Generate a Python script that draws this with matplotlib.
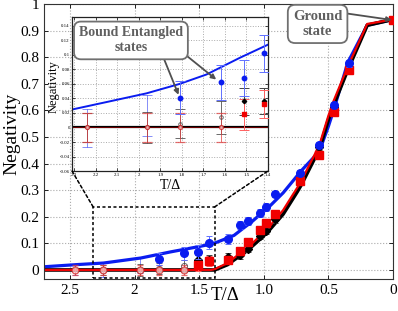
import matplotlib
matplotlib.use("Agg")
import matplotlib.pyplot as plt
from matplotlib.patches import Rectangle, ConnectionPatch
from matplotlib.ticker import FuncFormatter

plt.rcParams['font.family'] = ['Liberation Serif', 'DejaVu Serif']

# theory curves (main panel)
theory_T = [2.7, 2.45, 2.24, 1.95, 1.72, 1.5, 1.41, 1.38, 1.28, 1.23, 1.15, 1.1, 1.02, 0.97,
            0.85, 0.74, 0.71, 0.6, 0.56, 0.5, 0.46, 0.35, 0.2, 0.0]
blue_theory = [0.012, 0.02, 0.026, 0.045, 0.068, 0.088, 0.097, 0.101, 0.12, 0.13, 0.16, 0.178,
               0.212, 0.232, 0.29, 0.355, 0.373, 0.43, 0.46, 0.54, 0.6, 0.78, 0.92, 0.942]
black_theory = [0.0, 0.0, 0.0, 0.0, 0.0, 0.0, 0.0, 0.0, 0.02, 0.038, 0.065, 0.085,
                0.12, 0.143, 0.21, 0.295, 0.32, 0.426, 0.47, 0.565, 0.62, 0.753, 0.92, 0.942]
red_theory = [0.0, 0.0, 0.0, 0.0, 0.0, 0.0, 0.0, 0.003, 0.026, 0.045, 0.075, 0.095,
              0.132, 0.155, 0.225, 0.31, 0.335, 0.44, 0.485, 0.58, 0.635, 0.765, 0.925, 0.942]

# theory curve as drawn in the inset
inset_theory_T = [2.306, 2.15, 1.964, 1.81, 1.685, 1.53, 1.40]
inset_blue_theory = [0.025, 0.035, 0.047, 0.060, 0.073, 0.096, 0.114]
inset_zero_T = [2.31, 1.40]
inset_zero = [0.0, 0.0]

# measured points
blue_T = [1.81, 1.62, 1.51, 1.42, 1.28, 1.18, 1.12, 1.03, 0.98, 0.91, 0.72, 0.57, 0.46, 0.34]
blue_N = [0.041, 0.062, 0.068, 0.102, 0.117, 0.168, 0.185, 0.216, 0.237, 0.285, 0.365, 0.47, 0.62, 0.777]
blue_err = [0.023, 0.024, 0.025, 0.025, 0.02, 0.015, 0.015, 0.015, 0.015, 0.012, 0.012, 0.012, 0.012, 0.012]

# blue error bars of points compatible with zero
blue0_T = [2.46, 2.24, 1.96]
blue0_lo = [-0.02, -0.027, -0.012]
blue0_hi = [0.02, 0.025, 0.045]

red_T = [2.46, 2.24, 1.96, 1.81, 1.62, 1.51, 1.42, 1.28, 1.18, 1.12, 1.03, 0.98, 0.91, 0.72, 0.57, 0.46, 0.34, 0.0]
red_N = [0.0, 0.0, 0.0, 0.0, 0.0, 0.018, 0.032, 0.036, 0.072, 0.105, 0.152, 0.175, 0.21, 0.335, 0.433, 0.595, 0.752, 0.94]
red_err = [0.02, 0.02, 0.02, 0.02, 0.02, 0.021, 0.019, 0.015, 0.015, 0.015, 0.015, 0.015, 0.015, 0.012, 0.012, 0.012, 0.012, 0.008]
red_open = 5

black_T = [2.24, 1.96, 1.81, 1.62, 1.51, 1.42, 1.28, 1.18, 1.12, 1.03, 0.98, 0.91, 0.72, 0.57, 0.46]
black_N = [0.0, 0.0, 0.005, 0.014, 0.036, 0.037, 0.05, 0.055, 0.08, 0.128, 0.147, 0.19, 0.345, 0.462, 0.614]
black_err = [0.02, 0.021, 0.02, 0.023, 0.019, 0.018, 0.012, 0.012, 0.012, 0.012, 0.012, 0.012, 0.01, 0.01, 0.01]
black_open = 4

x_ticks = [2.5, 2, 1.5, 1.0, 0.5, 0]
x_ticklabels = ["2.5", "2", "1.5", "1.0", "0.5", "0"]
y_ticks = [0, 0.1, 0.2, 0.3, 0.4, 0.5, 0.6, 0.7, 0.8, 0.9, 1]
y_ticklabels = ["0", "0.1", "0.2", "0.3", "0.4", "0.5", "0.6", "0.7", "0.8", "0.9", "1"]
inset_x_ticks = [2.3, 2.2, 2.1, 2.0, 1.9, 1.8, 1.7, 1.6, 1.5, 1.4]
inset_y_ticks = [-0.06, -0.04, -0.02, 0, 0.02, 0.04, 0.06, 0.08, 0.1, 0.12, 0.14]

BLUE = "#0a1cf0"
RED = "#f00000"


def draw_points(ax, ms, cap, elw):
    b0_mid = [(lo + hi) / 2 for lo, hi in zip(blue0_lo, blue0_hi)]
    b0_err = [(hi - lo) / 2 for lo, hi in zip(blue0_lo, blue0_hi)]
    ax.errorbar(blue0_T, b0_mid, yerr=b0_err, fmt='none', ecolor=BLUE, alpha=0.5,
                elinewidth=elw, capsize=cap, capthick=elw, zorder=3)
    # black
    ax.errorbar(black_T[:black_open], black_N[:black_open], yerr=black_err[:black_open],
                fmt='o', mfc='none', mec='#444444', color='#444444', ms=ms * 0.8, mew=0.7,
                alpha=0.8, elinewidth=elw, capsize=cap, capthick=elw, zorder=3)
    ax.errorbar(black_T[black_open:], black_N[black_open:], yerr=black_err[black_open:],
                fmt='D', color='black', ms=ms * 0.7, ecolor='#444444',
                elinewidth=elw, capsize=cap, capthick=elw, zorder=4)
    # red
    ax.errorbar(red_T[:red_open], red_N[:red_open], yerr=red_err[:red_open],
                fmt='o', mfc='#ffd0d0', mec='#d02020', ms=ms * 0.9, mew=0.9,
                ecolor='#e04040', alpha=0.75, elinewidth=elw, capsize=cap, capthick=elw, zorder=3)
    ax.errorbar(red_T[red_open:], red_N[red_open:], yerr=red_err[red_open:],
                fmt='s', color=RED, ms=ms, ecolor='#ff6060',
                elinewidth=elw, capsize=cap, capthick=elw, zorder=4)
    # blue
    ax.errorbar(blue_T, blue_N, yerr=blue_err, fmt='o', color=BLUE, ms=ms,
                ecolor='#6070ff', elinewidth=elw, capsize=cap, capthick=elw, zorder=5)


fig = plt.figure(figsize=(3.98, 3.11), dpi=100)
ax = fig.add_axes([0.1106, 0.1029, 0.8769, 0.8842])

ax.plot(theory_T, blue_theory, color=BLUE, lw=2.3, zorder=2)
ax.plot(theory_T, black_theory, color='black', lw=2.6, zorder=2)
ax.plot(theory_T, red_theory, color=RED, lw=1.6, zorder=2)
draw_points(ax, ms=5.5, cap=2, elw=0.7)

ax.set_xlim(2.7, 0)
ax.set_ylim(-0.034, 1.0)
ax.set_xticks(x_ticks)
ax.set_xticklabels(x_ticklabels)
ax.set_yticks(y_ticks)
ax.set_yticklabels(y_ticklabels)
ax.tick_params(direction='in', top=True, right=True, labelsize=11, length=3, width=0.6)
ax.grid(True, color='#aaaaaa', linestyle=':', linewidth=0.8)
for s in ax.spines.values():
    s.set_linewidth(0.8)
    s.set_color('#333333')
ax.set_ylabel("Negativity", fontsize=14)
ax.yaxis.set_label_coords(-0.068, 0.527)
ax.set_xlabel("T/Δ", fontsize=13.5)
ax.xaxis.set_label_coords(0.52, -0.028)

# zoom box
zoom_box = Rectangle((2.32, -0.03), 1.38 - 2.32, 0.267, fill=False, ls=(0, (2, 1.6)),
                     lw=1.1, color='black', zorder=6)
ax.add_patch(zoom_box)

# inset
axins = fig.add_axes([0.181, 0.450, 0.492, 0.495])
axins.set_facecolor('white')
axins.plot(inset_theory_T, inset_blue_theory, color=BLUE, lw=1.4, zorder=2)
axins.plot(inset_zero_T, inset_zero, color='black', lw=1.6, zorder=2)
axins.plot(inset_zero_T, inset_zero, color='#a00000', lw=0.7, alpha=0.7, zorder=2)
draw_points(axins, ms=3.2, cap=3.5, elw=0.7)
axins.set_xlim(2.31, 1.4)
axins.set_ylim(-0.06, 0.152)
axins.set_xticks(inset_x_ticks)
axins.set_yticks(inset_y_ticks)
axins.xaxis.set_major_formatter(FuncFormatter(lambda v, p: "%g" % round(v, 2)))
axins.yaxis.set_major_formatter(FuncFormatter(lambda v, p: "%g" % round(v, 2)))
axins.tick_params(direction='in', top=True, right=True, labelsize=3.5, length=2, width=0.5, pad=1.5)
axins.grid(True, color='#aaaaaa', linestyle=':', linewidth=0.7)
for s in axins.spines.values():
    s.set_linewidth(0.9)
    s.set_color('#222222')
axins.set_ylabel("Negativity", fontsize=9)
axins.yaxis.set_label_coords(-0.065, 0.55)
axins.set_xlabel("T/Δ", fontsize=10, labelpad=1)

for xa, xb in [(2.32, 0), (1.38, 1)]:
    con = ConnectionPatch(xyA=(xa, 0.237), coordsA='data', axesA=ax,
                          xyB=(xb, 0), coordsB='axes fraction', axesB=axins,
                          ls=(0, (2, 1.6)), lw=1.1, color='black', zorder=7)
    fig.add_artist(con)

# annotations
box = dict(boxstyle='round,pad=0.35,rounding_size=0.5', fc='white', ec='#707070', lw=1.3)
arrow = dict(arrowstyle='-|>', color='#505050', lw=1.3, mutation_scale=7, shrinkA=0, shrinkB=0)
fig.text(0.329, 0.870, "Bound Entangled\nstates", ha='center', va='center', fontsize=10,
         fontweight='bold', color='#606060', linespacing=1.2, bbox=box, zorder=10)
axins.annotate("", xy=(1.815, 0.045), xycoords='data',
               xytext=(0.41, 0.817), textcoords='figure fraction', arrowprops=arrow, zorder=9)
axins.annotate("", xy=(1.64, 0.066), xycoords='data',
               xytext=(0.46, 0.83), textcoords='figure fraction', arrowprops=arrow, zorder=9)

fig.text(0.798, 0.923, "Ground\nstate", ha='center', va='center', fontsize=10.5,
         fontweight='bold', color='#606060', linespacing=1.2, bbox=box, zorder=10)
ax.annotate("", xy=(0.01, 0.94), xycoords='data',
            xytext=(0.864, 0.958), textcoords='figure fraction', arrowprops=arrow, zorder=9)

fig.savefig("out.png", dpi=100)
